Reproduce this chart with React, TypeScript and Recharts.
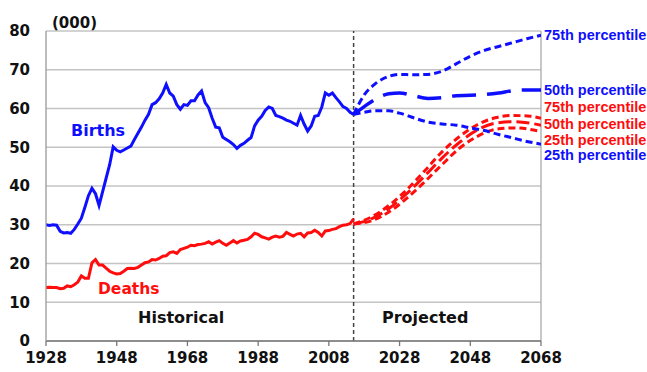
import React from 'react';
import { LineChart, Line, XAxis, YAxis, CartesianGrid, ReferenceLine } from 'recharts';

// Historical series, one value per year starting at HIST_START
const HIST_START = 1928;
const birthsHist = [
  30.0, 29.8, 30.0, 29.9, 28.3, 27.9, 28.0, 27.8, 28.8, 30.2, // 1928-1937
  31.7, 34.5, 37.5, 39.4, 38.0, 35.0, 38.5, 42.0, 45.5, 50.1, // 1938-1947
  49.2, 48.8, 49.3, 49.8, 50.3, 52.0, 53.6, 55.2, 57.0, 58.5, // 1948-1957
  61.0, 61.5, 62.5, 64.0, 66.2, 64.0, 63.2, 61.0, 59.8, 61.0, // 1958-1967
  60.8, 62.0, 62.0, 63.5, 64.5, 61.5, 60.2, 57.5, 55.2, 55.0, // 1968-1977
  52.6, 52.0, 51.4, 50.7, 49.7, 50.5, 51.0, 51.8, 52.5, 55.5, // 1978-1987
  57.0, 58.0, 59.5, 60.4, 60.0, 58.2, 57.9, 57.5, 57.0, 56.7, // 1988-1997
  56.2, 55.7, 58.2, 56.0, 54.2, 55.5, 58.0, 58.2, 60.4, 64.0, // 1998-2007
  63.4, 64.0, 62.8, 61.7, 60.5, 60.0, 59.0, 58.5,             // 2008-2015
];
const deathsHist = [
  13.8, 13.9, 13.8, 13.8, 13.5, 13.6, 14.2, 14.0, 14.5, 15.2, // 1928-1937
  16.8, 16.2, 16.2, 20.2, 21.0, 19.6, 19.6, 18.8, 18.0, 17.6, // 1938-1947
  17.3, 17.4, 18.0, 18.7, 18.8, 18.7, 19.0, 19.6, 20.2, 20.4, // 1948-1957
  21.0, 20.9, 21.3, 21.9, 22.0, 22.8, 23.0, 22.6, 23.6, 23.9, // 1958-1967
  24.2, 24.7, 24.6, 24.9, 25.0, 25.2, 25.6, 25.0, 25.5, 25.9, // 1968-1977
  25.2, 24.7, 25.3, 25.9, 25.3, 25.8, 26.0, 26.2, 26.9, 27.8, // 1978-1987
  27.5, 26.9, 26.6, 26.3, 26.8, 27.1, 26.8, 27.0, 28.0, 27.5, // 1988-1997
  27.1, 27.6, 27.8, 26.9, 27.9, 28.0, 28.6, 28.0, 27.1, 28.4, // 1998-2007
  28.5, 28.8, 29.0, 29.5, 29.9, 30.0, 30.3, 31.5,             // 2008-2015
];

// Projected births (percentiles)
const birthsProjYears = [2015, 2018, 2021, 2025, 2028, 2032, 2036, 2040, 2044, 2048, 2052, 2056, 2060, 2064, 2068];
const births75 = [58.5, 63.5, 66.3, 68.3, 68.8, 68.7, 68.8, 69.6, 71.5, 73.5, 75.0, 76.0, 77.0, 78.0, 78.9];
const births50 = [58.5, 60.5, 62.3, 63.8, 64.0, 63.3, 62.6, 62.8, 63.3, 63.4, 63.6, 64.0, 64.6, 64.8, 64.8];
const births25 = [58.5, 59.0, 59.4, 59.4, 58.8, 57.6, 56.5, 56.0, 55.7, 55.0, 54.3, 53.3, 52.4, 51.5, 50.8];

// Projected deaths (percentiles)
const deathsProjYears = [2015, 2020, 2025, 2030, 2035, 2040, 2045, 2050, 2055, 2060, 2065, 2068];
const deaths75 = [30.2, 32.0, 35.0, 39.0, 43.8, 48.8, 52.8, 55.8, 57.6, 58.2, 58.0, 57.5];
const deaths50 = [30.2, 31.5, 34.2, 38.0, 42.5, 47.2, 51.3, 54.5, 56.2, 56.6, 56.2, 55.7];
const deaths25 = [30.2, 31.0, 33.3, 36.8, 41.0, 45.5, 49.8, 52.8, 54.6, 55.0, 54.6, 54.0];

const xTicks = [1928, 1948, 1968, 1988, 2008, 2028, 2048, 2068];
const yTicks = [0, 10, 20, 30, 40, 50, 60, 70, 80];
const PROJECTION_START = 2015;

const BLUE = '#0f0fff';
const RED = '#ff0d0d';

const histRows = birthsHist.map((b, i) => ({ year: HIST_START + i, births: b, deaths: deathsHist[i] }));
const rows = (years: number[], vals: number[]) => years.map((y, i) => ({ year: y, v: vals[i] }));

const tickFont = { fill: '#111', fontSize: 15, fontWeight: 700, fontFamily: 'DejaVu Sans' };

export default function App() {
  return (
    <div style={{ position: 'absolute', left: 0, top: 0, width: 647, height: 372, background: '#fff' }}>
      <LineChart width={647} height={372} margin={{ top: 31, right: 106, left: 0, bottom: 1 }}>
        <CartesianGrid vertical={false} stroke="#c4c4c4" strokeWidth={1.3} />
        <XAxis
          type="number"
          dataKey="year"
          domain={[1928, 2068]}
          ticks={xTicks}
          allowDataOverflow
          height={30}
          axisLine={{ stroke: '#777', strokeWidth: 1.3 }}
          tickLine={{ stroke: '#777', strokeWidth: 1.3 }}
          tickSize={5}
          tickMargin={6}
          tick={tickFont}
        />
        <YAxis
          type="number"
          domain={[0, 80]}
          ticks={yTicks}
          width={46}
          axisLine={{ stroke: '#999', strokeWidth: 1.3 }}
          tickLine={false}
          tickSize={0}
          tickMargin={16}
          tick={tickFont}
        />
        <ReferenceLine x={2068} stroke="#aaa" strokeWidth={1.3} />
        <ReferenceLine x={PROJECTION_START} stroke="#444" strokeWidth={1.5} strokeDasharray="4 3" />

        <Line data={histRows} dataKey="deaths" type="linear" stroke={RED} strokeWidth={3} dot={false} isAnimationActive={false} />
        <Line data={histRows} dataKey="births" type="linear" stroke={BLUE} strokeWidth={3} dot={false} isAnimationActive={false} />

        <Line data={rows(deathsProjYears, deaths75)} dataKey="v" type="monotone" stroke={RED} strokeWidth={3} strokeDasharray="7 4" dot={false} isAnimationActive={false} />
        <Line data={rows(deathsProjYears, deaths25)} dataKey="v" type="monotone" stroke={RED} strokeWidth={3} strokeDasharray="7 4" dot={false} isAnimationActive={false} />
        <Line data={rows(deathsProjYears, deaths50)} dataKey="v" type="monotone" stroke={RED} strokeWidth={3} strokeDasharray="13 5" dot={false} isAnimationActive={false} />

        <Line data={rows(birthsProjYears, births75)} dataKey="v" type="monotone" stroke={BLUE} strokeWidth={3} strokeDasharray="7 4" dot={false} isAnimationActive={false} />
        <Line data={rows(birthsProjYears, births25)} dataKey="v" type="monotone" stroke={BLUE} strokeWidth={3} strokeDasharray="7 4" dot={false} isAnimationActive={false} />
        <Line data={rows(birthsProjYears, births50)} dataKey="v" type="monotone" stroke={BLUE} strokeWidth={3.5} strokeDasharray="24 11" dot={false} isAnimationActive={false} />
      </LineChart>

      <svg width={647} height={372} style={{ position: 'absolute', left: 0, top: 0, pointerEvents: 'none' }}>
        <g fontFamily="DejaVu Sans" fontWeight={700}>
          <text x={52} y={27.5} fontSize={15} fill="#111">(000)</text>
          <text x={71} y={136} fontSize={16} fill={BLUE}>Births</text>
          <text x={98} y={294} fontSize={15.5} fill={RED}>Deaths</text>
          <text x={138} y={323} fontSize={16} fill="#111">Historical</text>
          <text x={382} y={323} fontSize={16} fill="#111">Projected</text>
        </g>
        <g fontFamily="Liberation Sans, Arial, sans-serif" fontWeight={700} fontSize={14.5}>
          <text x={544} y={40} fill={BLUE}>75th percentile</text>
          <text x={544} y={95} fill={BLUE}>50th percentile</text>
          <text x={544} y={112} fill={RED}>75th percentile</text>
          <text x={544} y={129} fill={RED}>50th percentile</text>
          <text x={544} y={145} fill={RED}>25th percentile</text>
          <text x={544} y={160} fill={BLUE}>25th percentile</text>
        </g>
      </svg>
    </div>
  );
}
